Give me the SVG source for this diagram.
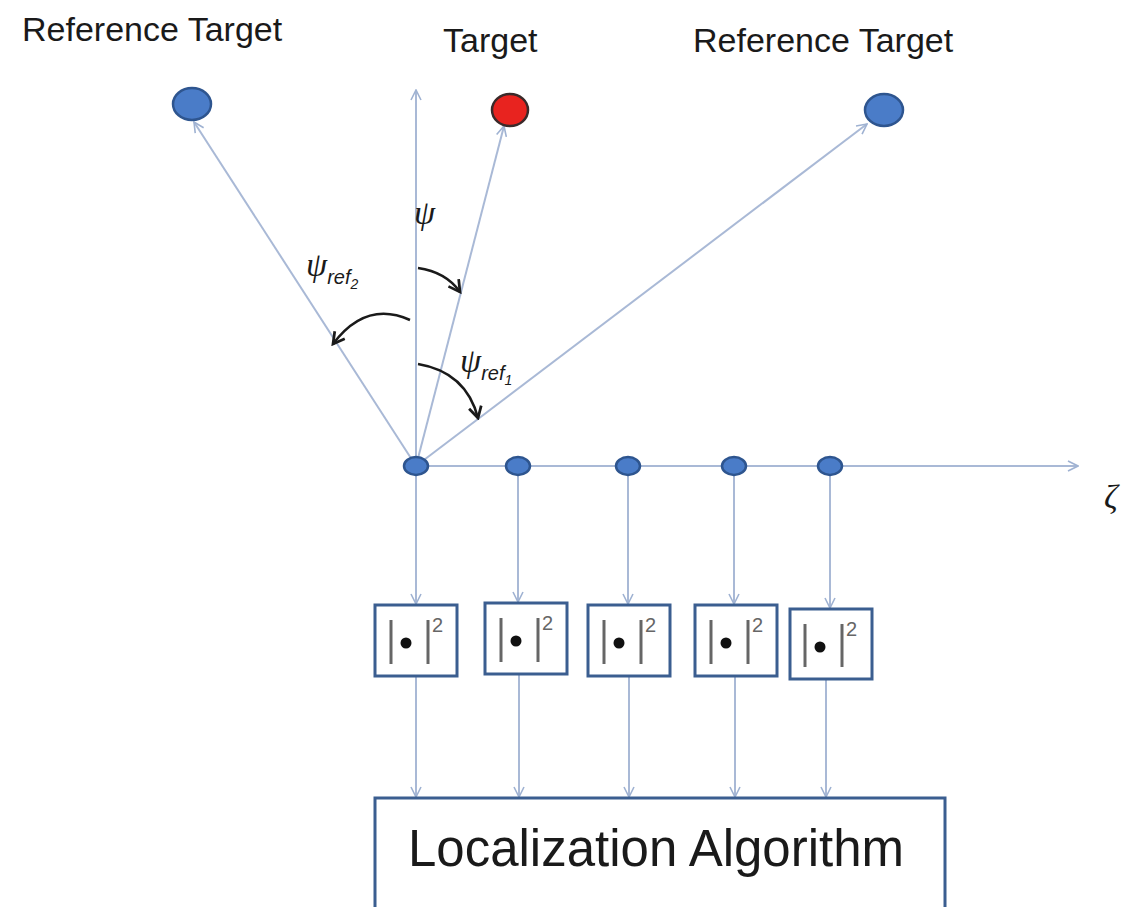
<svg xmlns="http://www.w3.org/2000/svg" width="1128" height="907" viewBox="0 0 1128 907">
<defs>
<marker id="open" viewBox="0 0 12 12" refX="11" refY="6" markerWidth="12" markerHeight="12" markerUnits="userSpaceOnUse" orient="auto">
<path d="M1,1 L11,6 L1,11" fill="none" stroke="#9fb2d2" stroke-width="1.6"/>
</marker>
<marker id="curv" viewBox="0 0 12 12" refX="10" refY="6" markerWidth="15" markerHeight="15" markerUnits="userSpaceOnUse" orient="auto">
<path d="M1,1 L10,6 L1,11" fill="none" stroke="#1a1a1a" stroke-width="2.2"/>
</marker>
</defs>
<style>
.ln{stroke:#a9b9d6;stroke-width:2;fill:none}
.node{fill:#4a7cc8;stroke:#2e558f;stroke-width:2.5}
.box{fill:#fff;stroke:#3b5e90;stroke-width:3}
.lbl{font-family:"Liberation Sans",Arial,sans-serif;font-size:34px;fill:#1a1a1a}
.big{font-family:"Liberation Sans",Arial,sans-serif;font-size:51px;fill:#1a1a1a}
.sup{font-family:"Liberation Sans",Arial,sans-serif;font-size:20px;fill:#666}
.sym{font-family:"Liberation Serif","Times New Roman",serif;font-style:italic;font-size:34px;fill:#1a1a1a}
.sub{font-family:"Liberation Sans",Arial,sans-serif;font-size:20px}
.sub2{font-family:"Liberation Sans",Arial,sans-serif;font-size:14px}
.arc{stroke:#1a1a1a;stroke-width:2.6;fill:none}
.bar{stroke:#666;stroke-width:3}
</style>
<rect width="1128" height="907" fill="#fff"/>
<g id="connectors">
<line class="ln" x1="416" y1="466" x2="416" y2="90" marker-end="url(#open)"/>
<line class="ln" x1="416" y1="466" x2="1078" y2="466" marker-end="url(#open)"/>
<line class="ln" x1="416" y1="466" x2="194" y2="122" marker-end="url(#open)"/>
<line class="ln" x1="416" y1="466" x2="504" y2="126" marker-end="url(#open)"/>
<line class="ln" x1="416" y1="466" x2="867" y2="124" marker-end="url(#open)"/>
<line class="ln" x1="416" y1="466" x2="416" y2="604" marker-end="url(#open)"/>
<line class="ln" x1="518" y1="466" x2="518" y2="602" marker-end="url(#open)"/>
<line class="ln" x1="628" y1="466" x2="628" y2="604" marker-end="url(#open)"/>
<line class="ln" x1="734" y1="466" x2="734" y2="604" marker-end="url(#open)"/>
<line class="ln" x1="830" y1="466" x2="830" y2="608" marker-end="url(#open)"/>
<line class="ln" x1="416" y1="677" x2="416" y2="797" marker-end="url(#open)"/>
<line class="ln" x1="519" y1="675" x2="519" y2="797" marker-end="url(#open)"/>
<line class="ln" x1="629" y1="677" x2="629" y2="797" marker-end="url(#open)"/>
<line class="ln" x1="735" y1="677" x2="735" y2="797" marker-end="url(#open)"/>
<line class="ln" x1="826" y1="680" x2="826" y2="797" marker-end="url(#open)"/>
<path class="arc" d="M418,268 Q446,272 460,292" marker-end="url(#curv)"/>
<path class="arc" d="M410,320 Q366,300 333,344" marker-end="url(#curv)"/>
<path class="arc" d="M418,364 Q466,372 478,418" marker-end="url(#curv)"/>
</g>
<g id="ref-target-left"><ellipse class="node" cx="192" cy="104" rx="19" ry="16"/><text class="lbl" x="22" y="41">Reference Target</text></g>
<g id="target"><ellipse cx="510" cy="110" rx="18" ry="16" fill="#e8231f" stroke="#3a2a2a" stroke-width="2.5"/><text class="lbl" x="443" y="52">Target</text></g>
<g id="ref-target-right"><ellipse class="node" cx="884" cy="110" rx="19" ry="16"/><text class="lbl" x="693" y="52">Reference Target</text></g>
<g id="n0"><ellipse class="node" cx="416" cy="466" rx="12" ry="9"/></g>
<g id="n1"><ellipse class="node" cx="518" cy="466" rx="12" ry="9"/></g>
<g id="n2"><ellipse class="node" cx="628" cy="466" rx="12" ry="9"/></g>
<g id="n3"><ellipse class="node" cx="734" cy="466" rx="12" ry="9"/></g>
<g id="n4"><ellipse class="node" cx="830" cy="466" rx="12" ry="9"/></g>
<g id="labels">
<text class="sym" x="414" y="224">ψ</text>
<text class="sym" x="306" y="276">ψ<tspan class="sub" dy="8">ref</tspan><tspan class="sub2" dy="5">2</tspan></text>
<text class="sym" x="460" y="372">ψ<tspan class="sub" dy="8">ref</tspan><tspan class="sub2" dy="5">1</tspan></text>
<text class="sym" x="1104" y="508">ζ</text>
</g>
<g id="sq1"><rect class="box" x="375" y="605" width="82" height="71"/><line class="bar" x1="391" y1="620" x2="391" y2="664"/><line class="bar" x1="428" y1="620" x2="428" y2="664"/><circle cx="406" cy="643" r="5.5" fill="#111"/><text class="sup" x="432" y="632">2</text></g>
<g id="sq2"><rect class="box" x="485" y="603" width="82" height="71"/><line class="bar" x1="501" y1="618" x2="501" y2="662"/><line class="bar" x1="538" y1="618" x2="538" y2="662"/><circle cx="516" cy="641" r="5.5" fill="#111"/><text class="sup" x="542" y="630">2</text></g>
<g id="sq3"><rect class="box" x="588" y="605" width="82" height="71"/><line class="bar" x1="604" y1="620" x2="604" y2="664"/><line class="bar" x1="641" y1="620" x2="641" y2="664"/><circle cx="619" cy="643" r="5.5" fill="#111"/><text class="sup" x="645" y="632">2</text></g>
<g id="sq4"><rect class="box" x="695" y="605" width="82" height="71"/><line class="bar" x1="711" y1="620" x2="711" y2="664"/><line class="bar" x1="748" y1="620" x2="748" y2="664"/><circle cx="726" cy="643" r="5.5" fill="#111"/><text class="sup" x="752" y="632">2</text></g>
<g id="sq5"><rect class="box" x="790" y="609" width="82" height="70"/><line class="bar" x1="805" y1="624" x2="805" y2="667"/><line class="bar" x1="842" y1="624" x2="842" y2="667"/><circle cx="820" cy="647" r="5.5" fill="#111"/><text class="sup" x="846" y="636">2</text></g>
<g id="localization"><rect class="box" x="375" y="798" width="570" height="130"/><text class="big" x="656" y="866" text-anchor="middle">Localization Algorithm</text></g>
</svg>
